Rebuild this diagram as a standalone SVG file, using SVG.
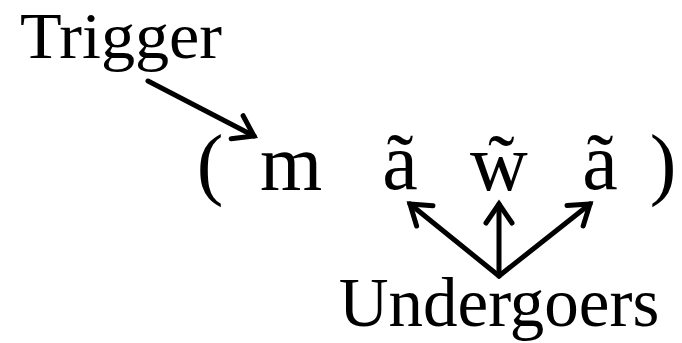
<svg xmlns="http://www.w3.org/2000/svg" width="682" height="343" viewBox="0 0 682 343">
<style>
.t{font-family:"Liberation Serif","DejaVu Serif",serif;fill:#000}
.c{fill:none;stroke:#000;stroke-width:5;stroke-linecap:round}
</style>
<defs>
<marker id="ah" markerUnits="userSpaceOnUse" markerWidth="40" markerHeight="40" refX="0" refY="0" viewBox="-25 -20 40 40" orient="auto" overflow="visible">
<path d="M-19,-13 L0,0 L-19,13" fill="none" stroke="#000" stroke-width="5" stroke-linecap="round" stroke-linejoin="miter"/>
</marker>
</defs>
<rect width="682" height="343" fill="#fff"/>
<g id="trigger"><text class="t" x="20" y="58" font-size="66" textLength="202" lengthAdjust="spacingAndGlyphs">Trigger</text></g>
<g id="word" class="t" font-size="80">
<text x="210" y="190" text-anchor="middle">(</text>
<text x="291" y="190" text-anchor="middle">m</text>
<text x="400" y="190" text-anchor="middle">ã</text>
<text x="499" y="190" text-anchor="middle">w̃</text>
<text x="600" y="190" text-anchor="middle">ã</text>
<text x="663" y="190" text-anchor="middle">)</text>
</g>
<g id="undergoers"><text class="t" x="499" y="326" font-size="69" text-anchor="middle">Undergoers</text></g>
<g id="connectors">
<line class="c" x1="148" y1="81" x2="254" y2="136" marker-end="url(#ah)"/>
<line class="c" x1="499" y1="276" x2="410" y2="204" marker-end="url(#ah)"/>
<line class="c" x1="499" y1="276" x2="499" y2="204" marker-end="url(#ah)"/>
<line class="c" x1="499" y1="276" x2="590" y2="204" marker-end="url(#ah)"/>
</g>
</svg>
